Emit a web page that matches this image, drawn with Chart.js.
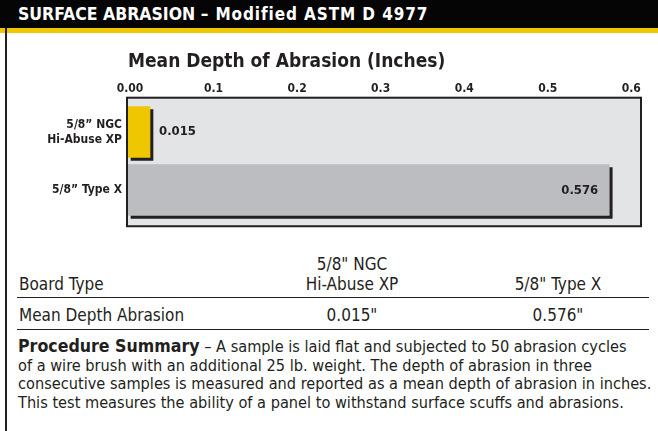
<!DOCTYPE html>
<html>
<head>
<meta charset="utf-8">
<script src="https://cdn.jsdelivr.net/npm/chart.js@4.4.1/dist/chart.umd.min.js"></script>
<style>
  body { margin: 0; background: #fff; width: 658px; height: 431px; overflow: hidden; position: relative;
         font-family: "DejaVu Sans Condensed", "Liberation Sans Narrow", sans-serif; color: #231f20; }
  #header { position: absolute; left: 0; top: 0; width: 658px; height: 28px; background: #050505;
            border-bottom: 5px solid #f0c800; }
  #header span { position: absolute; left: 18px; top: 0; line-height: 28px; color: #fff; font-weight: bold; font-size: 17.5px; white-space: nowrap; }
  #header small { font-size: 17px; letter-spacing: 0.9px; }
  #leftRule { position: absolute; left: 5px; top: 28px; width: 2px; height: 403px; background: #231f20; }
  #chartBox { position: absolute; left: 0; top: 40px; }
  .t { position: absolute; font-size: 17px; line-height: 20px; white-space: nowrap; }
  .c { text-align: center; width: 200px; }
  .rule { position: absolute; left: 17px; width: 632px; height: 0; border-top: 1px solid #231f20; }
  #summary { position: absolute; left: 18px; top: 337px; font-size: 16.2px; line-height: 18.5px; white-space: nowrap; }
  #summary b { font-size: 17.6px; }
</style>
</head>
<body>
<div id="header"><span>SURFACE ABRASION <small>&ndash; Modified ASTM D 4977</small></span></div>
<div id="leftRule"></div>
<div id="chartBox"><canvas id="abrasionChart" width="658" height="200"></canvas></div>
<div id="table"></div>
<div id="summary"></div>

<script>
// chart data
const categories = [["5/8\u201D NGC", "Hi-Abuse XP"], "5/8\u201D Type X"];
const depthValues = [0.015, 0.576];
const valueLabels = ["0.015", "0.576"];
const barColors = ["#efc700", "#bcbdc0"];
const tickValues = [0, 0.1, 0.2, 0.3, 0.4, 0.5, 0.6];
const tickLabels = ["0.00", "0.1", "0.2", "0.3", "0.4", "0.5", "0.6"];

// table data
const tableRowNames = ["Board Type", "Mean Depth Abrasion"];
const tableBoards = [["5/8\" NGC", "Hi-Abuse XP"], ["5/8\" Type X"]];
const tableDepths = ["0.015\"", "0.576\""];

const summaryLines = [
  "<b>Procedure Summary</b> \u2013 A sample is laid flat and subjected to 50 abrasion cycles",
  "of a wire brush with an additional 25 lb. weight. The depth of abrasion in three",
  "consecutive samples is measured and reported as a mean depth of abrasion in inches.",
  "This test measures the ability of a panel to withstand surface scuffs and abrasions."
];

const FONT = "'DejaVu Sans Condensed', 'Liberation Sans Narrow', sans-serif";
const INK = "#231f20";

// grey panel behind the bars
const panelPlugin = {
  id: "panel",
  beforeDraw(chart) {
    const { ctx, chartArea } = chart;
    const x = chartArea.left - 1, y = chartArea.top - 5.25;
    const w = chartArea.right - chartArea.left + 1, h = chartArea.bottom - chartArea.top + 12.5;
    ctx.save();
    ctx.fillStyle = "#e3e4e6";
    ctx.fillRect(x, y, w, h);
    ctx.strokeStyle = INK;
    ctx.lineWidth = 2;
    ctx.strokeRect(x, y, w, h);
    ctx.restore();
  }
};

// drop shadow on bars + value labels
const barDecor = {
  id: "barDecor",
  beforeDatasetsDraw(chart) {
    const ctx = chart.ctx;
    ctx.save();
    ctx.shadowColor = INK;
    ctx.shadowOffsetX = 3;
    ctx.shadowOffsetY = 3;
    ctx.shadowBlur = 0;
  },
  afterDatasetsDraw(chart) {
    const ctx = chart.ctx;
    ctx.restore();
    ctx.save();
    ctx.font = "bold 13px " + FONT;
    ctx.fillStyle = INK;
    ctx.textBaseline = "middle";
    chart.getDatasetMeta(0).data.forEach((bar, i) => {
      if (bar.x - bar.base < 60) {
        ctx.textAlign = "left";
        ctx.fillText(valueLabels[i], bar.x + 9, bar.y);
      } else {
        ctx.textAlign = "right";
        ctx.fillText(valueLabels[i], bar.x - 11, bar.y + 1);
      }
    });
    ctx.restore();
  }
};

const ctx = document.getElementById("abrasionChart").getContext("2d");
new Chart(ctx, {
  type: "bar",
  data: {
    labels: categories,
    datasets: [{
      data: depthValues,
      backgroundColor: barColors,
      borderWidth: 0,
      barThickness: 51,
      minBarLength: 22
    }]
  },
  options: {
    indexAxis: "y",
    responsive: false,
    animation: false,
    devicePixelRatio: 1,
    layout: { padding: { left: 0, right: 17, top: 0, bottom: 18.25 } },
    plugins: {
      legend: { display: false },
      tooltip: { enabled: false },
      title: {
        display: true,
        text: "Mean Depth of Abrasion (Inches)",
        align: "start",
        fullSize: false,
        color: INK,
        font: { family: FONT, size: 19, weight: "bold" },
        padding: { top: 11, bottom: 4 }
      }
    },
    scales: {
      x: {
        type: "linear",
        position: "top",
        min: 0,
        max: 0.614,
        afterBuildTicks: (scale) => { scale.ticks = tickValues.map(v => ({ value: v })); },
        afterFit: (scale) => { scale.height = 25.15; },
        grid: { display: false, drawTicks: false },
        border: { display: false },
        ticks: {
          color: INK,
          padding: 7,
          labelOffset: 2,
          font: { family: FONT, size: 12, weight: "bold" },
          callback: (value, index) => tickLabels[index]
        }
      },
      y: {
        type: "category",
        afterFit: (scale) => { scale.width = 128; },
        grid: { display: false, drawTicks: false },
        border: { display: false },
        ticks: {
          color: INK,
          padding: 6,
          font: { family: FONT, size: 12, weight: "bold", lineHeight: 1.25 }
        }
      }
    }
  },
  plugins: [panelPlugin, barDecor]
});

// comparison table under the chart
const table = document.getElementById("table");
function addText(html, cls, left, top) {
  const d = document.createElement("div");
  d.className = "t " + cls;
  d.style.left = left + "px";
  d.style.top = top + "px";
  d.innerHTML = html;
  table.appendChild(d);
}
const colLefts = [252, 458];
addText(tableRowNames[0], "", 19, 274);
addText(tableRowNames[1], "", 19, 305);
tableBoards.forEach((lines, i) => {
  lines.slice().reverse().forEach((line, j) => addText(line, "c", colLefts[i], 274 - j * 20));
  addText(tableDepths[i], "c", colLefts[i], 305);
});
[297, 329].forEach(y => {
  const r = document.createElement("div");
  r.className = "rule";
  r.style.top = y + "px";
  table.appendChild(r);
});

document.getElementById("summary").innerHTML = summaryLines.join("<br>");
</script>
</body>
</html>
